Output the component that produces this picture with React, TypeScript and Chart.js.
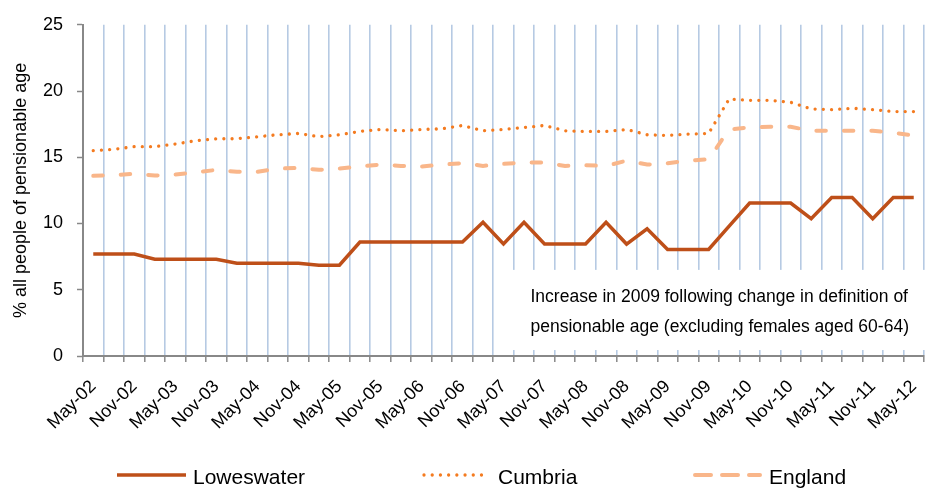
import { useEffect, useRef } from 'react';
import { Chart, registerables } from 'chart.js';

Chart.register(...registerables);

const FONT = '"Liberation Sans", Arial, Helvetica, sans-serif';

const quarters = [
  'May-02', 'Aug-02', 'Nov-02', 'Feb-03', 'May-03', 'Aug-03', 'Nov-03', 'Feb-04',
  'May-04', 'Aug-04', 'Nov-04', 'Feb-05', 'May-05', 'Aug-05', 'Nov-05', 'Feb-06',
  'May-06', 'Aug-06', 'Nov-06', 'Feb-07', 'May-07', 'Aug-07', 'Nov-07', 'Feb-08',
  'May-08', 'Aug-08', 'Nov-08', 'Feb-09', 'May-09', 'Aug-09', 'Nov-09', 'Feb-10',
  'May-10', 'Aug-10', 'Nov-10', 'Feb-11', 'May-11', 'Aug-11', 'Nov-11', 'Feb-12',
  'May-12',
];

const loweswater = [
  7.7, 7.7, 7.7, 7.3, 7.3, 7.3, 7.3, 7.0, 7.0, 7.0,
  7.0, 6.85, 6.85, 8.6, 8.6, 8.6, 8.6, 8.6, 8.6, 10.1,
  8.45, 10.1, 8.45, 8.45, 8.45, 10.1, 8.45, 9.6, 8.04, 8.04,
  8.04, 9.8, 11.55, 11.55, 11.55, 10.37, 11.96, 11.96, 10.37, 11.96,
  11.96,
];

const cumbria = [
  15.5, 15.6, 15.8, 15.8, 16.0, 16.25, 16.4, 16.4, 16.55, 16.7,
  16.8, 16.55, 16.7, 16.95, 17.1, 17.0, 17.1, 17.15, 17.4, 17.0,
  17.1, 17.25, 17.4, 17.0, 16.95, 16.95, 17.1, 16.7, 16.65, 16.75,
  16.8, 19.4, 19.3, 19.3, 19.15, 18.65, 18.6, 18.7, 18.6, 18.45,
  18.45,
];

const england = [
  13.6, 13.65, 13.75, 13.62, 13.7, 13.85, 14.05, 13.9, 13.9, 14.15,
  14.2, 14.05, 14.15, 14.3, 14.45, 14.35, 14.3, 14.45, 14.55, 14.35,
  14.5, 14.6, 14.6, 14.35, 14.4, 14.35, 14.75, 14.45, 14.55, 14.75,
  14.85, 17.1, 17.25, 17.3, 17.3, 17.0, 17.0, 17.0, 17.0, 16.85,
  16.65,
];

const seriesNames = ['Loweswater', 'Cumbria', 'England'];
const yTitle = '% all people of pensionable age';
const noteLines = [
  'Increase in 2009 following change in definition of',
  'pensionable age (excluding females aged 60-64)',
];
const noteFromIndex = 20;
const noteTop = 6.5;
const noteBottom = 0.45;

const GRID = '#B6CAE3';
const AXIS = '#888888';

const legendDash = [[], [0.01, 8.2], [16, 11]];
const legendCap = ['butt', 'round', 'round'];

export default function App() {
  const ref = useRef<HTMLCanvasElement>(null);

  useEffect(() => {
    if (!ref.current) return;

    const notePlugin = {
      id: 'noteBox',
      beforeDatasetsDraw(chart: any) {
        const { ctx, scales, width } = chart;
        const x0 = scales.x.getPixelForValue(noteFromIndex);
        const y0 = scales.y.getPixelForValue(noteTop);
        const y1 = scales.y.getPixelForValue(noteBottom);
        ctx.save();
        ctx.fillStyle = '#ffffff';
        ctx.fillRect(x0, y0, width - x0, y1 - y0);
        ctx.fillStyle = '#000000';
        ctx.font = `17.5px ${FONT}`;
        ctx.textBaseline = 'middle';
        ctx.textAlign = 'left';
        ctx.fillText(noteLines[0], x0 + 27, y0 + 27);
        ctx.fillText(noteLines[1], x0 + 27, y0 + 57);
        ctx.restore();
      },
    };

    const legendPlugin = {
      id: 'bottomLegend',
      afterDraw(chart: any) {
        const { ctx } = chart;
        const starts = [117, 422, 693];
        const yLine = 475;
        chart.data.datasets.forEach((ds: any, i: number) => {
          ctx.save();
          ctx.strokeStyle = ds.borderColor;
          ctx.lineWidth = ds.borderWidth;
          ctx.lineCap = legendCap[i];
          ctx.setLineDash(legendDash[i]);
          ctx.beginPath();
          const pad = legendCap[i] === 'round' ? 2 : 0;
          ctx.moveTo(starts[i] + pad, yLine);
          ctx.lineTo(starts[i] + 69 - pad, yLine);
          ctx.stroke();
          ctx.setLineDash([]);
          ctx.fillStyle = '#000000';
          ctx.font = `21px ${FONT}`;
          ctx.textBaseline = 'alphabetic';
          ctx.textAlign = 'left';
          ctx.fillText(ds.label, starts[i] + 76, 484);
          ctx.restore();
        });
      },
    };

    const chart = new Chart(ref.current, {
      type: 'line',
      data: {
        labels: quarters,
        datasets: [
          {
            label: seriesNames[0],
            data: loweswater,
            borderColor: '#BE4F19',
            borderWidth: 3.5,
            borderJoinStyle: 'miter',
            pointRadius: 0,
            tension: 0,
          },
          {
            label: seriesNames[1],
            data: cumbria,
            borderColor: '#F47B20',
            borderWidth: 3.3,
            borderDash: [0.01, 8.2],
            borderCapStyle: 'round',
            pointRadius: 0,
            tension: 0,
          },
          {
            label: seriesNames[2],
            data: england,
            borderColor: '#F9B68A',
            borderWidth: 4,
            borderDash: [9.5, 18],
            borderCapStyle: 'round',
            pointRadius: 0,
            tension: 0,
          },
        ],
      },
      options: {
        responsive: false,
        animation: false,
        devicePixelRatio: 1,
        layout: { padding: { top: 16, right: 1, left: 0, bottom: 0 } },
        plugins: {
          legend: { display: false },
          tooltip: { enabled: false },
        },
        scales: {
          x: {
            offset: true,
            grid: {
              offset: true,
              color: GRID,
              lineWidth: 1.6,
              drawTicks: true,
              tickLength: 6,
              tickColor: AXIS,
              tickWidth: 1.5,
            },
            border: { color: AXIS, width: 2 },
            ticks: {
              autoSkip: false,
              minRotation: 45,
              maxRotation: 45,
              padding: 14,
              color: '#000000',
              font: { family: FONT, size: 18 },
              callback: function (this: any, v: any, i: number) {
                return i % 2 === 0 ? this.getLabelForValue(v) : '';
              },
            },
            afterFit(scale: any) {
              scale.height = 132;
              scale.paddingLeft = 0;
              scale.paddingRight = 0;
            },
          },
          y: {
            min: 0,
            max: 25,
            ticks: {
              stepSize: 5,
              padding: 14,
              color: '#000000',
              font: { family: FONT, size: 18 },
            },
            grid: {
              drawOnChartArea: false,
              drawTicks: true,
              tickLength: 6,
              tickColor: AXIS,
              tickWidth: 1.5,
            },
            border: { color: AXIS, width: 2 },
            title: {
              display: true,
              text: yTitle,
              color: '#000000',
              font: { family: FONT, size: 18 },
              padding: { top: 10, bottom: 0 },
            },
            afterFit(scale: any) {
              scale.width = 83;
            },
          },
        },
      },
      plugins: [notePlugin, legendPlugin],
    } as any);

    return () => chart.destroy();
  }, []);

  return (
    <canvas
      ref={ref}
      width={925}
      height={488}
      style={{ position: 'absolute', left: 0, top: 0 }}
    />
  );
}
